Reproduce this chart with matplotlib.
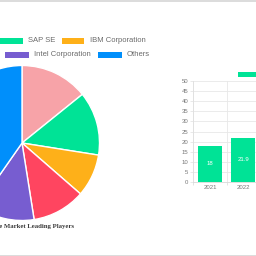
import matplotlib
matplotlib.use("Agg")
import matplotlib.pyplot as plt
from matplotlib.patches import Rectangle
from matplotlib.lines import Line2D

# ---- data ----
pie_labels = ["Microsoft Corporation", "SAP SE", "IBM Corporation",
              "Oracle Corporation", "Intel Corporation", "Others"]
pie_values = [14.2, 13.3, 8.9, 11.1, 12.2, 40.3]
pie_colors = ["#F7A3A8", "#00E396", "#FEB019", "#FF4560", "#775DD0", "#008FFB"]

bar_years = ["2021", "2022"]
bar_values = [18.0, 21.9]
bar_color = "#00E396"
y_ticks = list(range(0, 55, 5))

title_text = "Data Compliance Market Leading Players"

W = H = 256
fig = plt.figure(figsize=(2.56, 2.56), dpi=100)
fig.patch.set_facecolor("white")

def fx(px):
    return px / W

def fy(py):
    return 1 - py / H

# borders top and bottom
fig.add_artist(Line2D([0, 1], [fy(0.5), fy(0.5)], color="#d6d6d6", lw=1.2))
fig.add_artist(Line2D([0, 1], [fy(255.5), fy(255.5)], color="#d6d6d6", lw=1.2))

# ---- pie ----
cx, cy, r = 22, 143, 77.5
axp = fig.add_axes([fx(cx - r), fy(cy + r), fx(2 * r), 2 * r / H])
axp.pie(pie_values, colors=pie_colors, startangle=90, counterclock=False,
        wedgeprops=dict(edgecolor="white", linewidth=1.0), radius=1.0)
axp.set_xlim(-1.0, 1.0)
axp.set_ylim(-1.0, 1.0)
axp.set_aspect("equal")
axp.axis("off")

# ---- pie legend (manual, rows of three) ----
leg_font = dict(family="Liberation Sans", fontsize=5.5, color="#6b6b6b", va="center")
rows = [
    # (label index, swatch left px, swatch right px, text x px, align, row y)
    (0, -120, -98, -7, "right", 40.7),
    (1, -1, 23, 28, "left", 40.7),
    (2, 62, 84, 90, "left", 40.7),
    (3, -110, -88, -2, "right", 54.7),
    (4, 5, 29, 34, "left", 54.7),
    (5, 98, 122, 127, "left", 54.7),
]
for idx, x0, x1, tx, al, yy in rows:
    fig.add_artist(Rectangle((fx(x0), fy(yy + 3)), fx(x1 - x0), 6 / H,
                             facecolor=pie_colors[idx], edgecolor="none"))
    fig.text(fx(tx), fy(yy), pie_labels[idx], ha=al, **leg_font)

# title under pie
fig.text(fx(73.5), fy(226.5), title_text, ha="right", va="center",
         family="Liberation Serif", fontsize=4.9, fontweight="bold", color="#3a3a3a")

# ---- bar chart ----
x_left = 193.3
cat_w = 33.35
n_cat = 3
y0_px, y50_px = 182.0, 81.0
axb = fig.add_axes([fx(x_left), fy(y0_px), fx(cat_w * n_cat), (y0_px - y50_px) / H])
xs = list(range(len(bar_values)))
bars = axb.bar(xs, bar_values, width=0.72, color=bar_color, zorder=3)
for b, v in zip(bars, bar_values):
    lab = f"{v:g}"
    axb.text(b.get_x() + b.get_width() / 2, v / 2, lab, ha="center", va="center",
             color="white", fontsize=4.3, family="Liberation Sans", zorder=4)
axb.set_xlim(-0.5, n_cat - 0.5)
axb.set_ylim(0, 50)
axb.set_yticks(y_ticks)
axb.set_yticklabels([str(t) for t in y_ticks])
axb.set_xticks(xs)
axb.set_xticklabels(bar_years)
axb.set_xticks([i - 0.5 for i in range(n_cat + 1)], minor=True)
axb.grid(axis="y", color="#e8e8e8", lw=0.6, zorder=0)
axb.grid(axis="x", which="minor", color="#e8e8e8", lw=0.6, zorder=0)
axb.tick_params(axis="y", length=2, width=0.5, color="#e0e0e0", labelsize=4.3,
                labelcolor="#777777", pad=1.5)
axb.tick_params(axis="x", which="major", length=0, labelsize=4.3,
                labelcolor="#777777", pad=2.5)
axb.tick_params(axis="x", which="minor", length=2.5, width=0.5, color="#d8d8d8")
for lab in axb.get_xticklabels() + axb.get_yticklabels():
    lab.set_family("Liberation Sans")
for s in ["top", "right"]:
    axb.spines[s].set_visible(False)
axb.spines["left"].set_color("#e0e0e0")
axb.spines["left"].set_linewidth(0.6)
axb.spines["bottom"].set_color("#d8d8d8")
axb.spines["bottom"].set_linewidth(0.6)
axb.set_facecolor("white")

# bar legend swatch
fig.add_artist(Rectangle((fx(238), fy(76.5)), fx(20), 5 / H,
                         facecolor=bar_color, edgecolor="none"))

fig.savefig("out.png", dpi=100)
